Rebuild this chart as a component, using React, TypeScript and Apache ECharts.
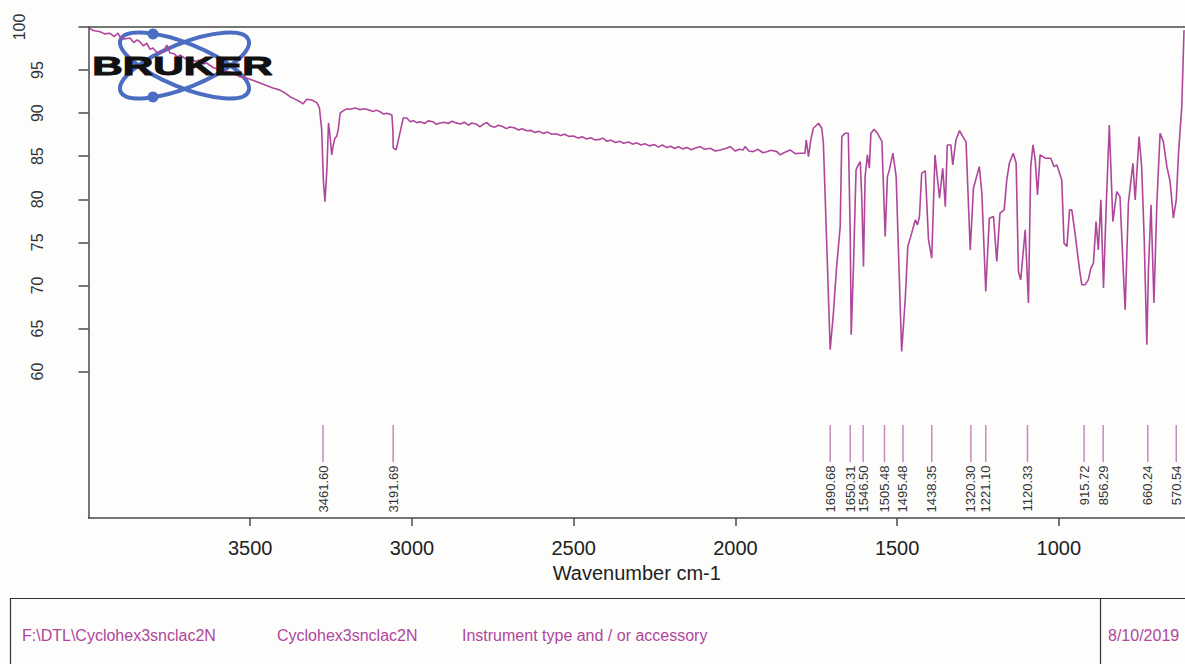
import React, { useEffect, useRef } from 'react';
import * as echarts from 'echarts';

// Spectrum: [wavenumber cm-1, transmittance %]
const highRegion: number[][] = [
  [4000, 99.9], [3985, 99.6], [3964, 99.45], [3950, 99.2], [3934, 99.27], [3920, 98.9], [3909, 99.3],
  [3903, 98.87], [3890, 98.6], [3872, 98.72], [3860, 98.2], [3850, 98.5], [3841, 98.29], [3830, 97.8],
  [3820, 98.14], [3810, 97.4], [3801, 97.56], [3790, 97.1], [3779, 96.98], [3768, 97.2], [3758, 97.91],
  [3748, 96.98], [3735, 96.9], [3725, 96.5], [3717, 96.75], [3700, 96.3], [3686, 96.4], [3670, 96.0],
  [3655, 96.17], [3645, 95.7], [3635, 95.82], [3615, 95.3], [3593, 95.01], [3575, 94.9], [3553, 94.66],
  [3530, 94.2], [3511, 94.08], [3490, 93.8], [3470, 93.5], [3450, 93.2], [3430, 92.92], [3410, 92.7],
  [3395, 92.4], [3377, 91.91], [3360, 91.6], [3346, 91.33], [3337, 91.07], [3325, 91.61], [3310, 91.53],
  [3294, 91.22], [3286, 90.6], [3279, 88.05], [3274, 82.25], [3269, 79.73], [3263, 83.41], [3258, 88.86],
  [3253, 87.27], [3248, 85.15], [3243, 86.31], [3238, 87.12], [3233, 87.27], [3228, 88.05], [3222, 89.99],
  [3212, 90.29], [3200, 90.5], [3191, 90.45], [3175, 90.6], [3160, 90.4], [3150, 90.5], [3140, 90.45],
  [3120, 90.2], [3110, 90.35], [3099, 90.17], [3088, 89.9], [3078, 89.99], [3070, 89.9], [3062, 89.79],
  [3059, 88.05], [3058, 85.96], [3049, 85.73], [3042, 86.89], [3035, 88.05], [3027, 89.44], [3016, 89.44],
  [3005, 89.0], [2996, 89.13], [2985, 88.9], [2975, 89.01], [2960, 88.8], [2950, 89.1], [2935, 89.01],
  [2925, 88.7], [2913, 88.86],
];

const midRegion: number[][] = [
  [2900, 88.95], [2888, 88.8], [2876, 89.05], [2866, 88.9], [2850, 88.75], [2838, 88.95], [2826, 88.6],
  [2815, 88.85], [2800, 88.7], [2790, 88.4], [2778, 88.75], [2768, 88.9], [2757, 88.5], [2745, 88.35],
  [2733, 88.6], [2720, 88.45], [2708, 88.2], [2698, 88.4], [2684, 88.3], [2670, 88.05], [2660, 88.2],
  [2645, 87.95], [2632, 88.0], [2620, 87.75], [2608, 87.9], [2594, 87.65], [2580, 87.8], [2568, 87.55],
  [2555, 87.6], [2540, 87.4], [2528, 87.55], [2515, 87.3], [2500, 87.35], [2486, 87.1], [2474, 87.25],
  [2460, 87.0], [2447, 87.15], [2434, 86.9], [2420, 86.95], [2410, 87.1], [2398, 86.75], [2385, 86.85],
  [2370, 86.6], [2358, 86.75], [2346, 86.5], [2330, 86.65], [2318, 86.4], [2305, 86.55], [2292, 86.3],
  [2280, 86.45], [2266, 86.2], [2250, 86.35], [2238, 86.05], [2226, 86.3], [2212, 86.0], [2200, 86.15],
  [2188, 85.9], [2176, 86.1], [2163, 85.85], [2150, 86.0], [2136, 85.75], [2124, 85.95], [2109, 86.11],
  [2095, 85.8], [2078, 85.93], [2062, 85.6], [2047, 85.73], [2030, 85.9], [2016, 86.11], [2000, 85.6],
  [1988, 85.8], [1976, 85.73], [1970, 86.11], [1958, 85.6], [1945, 85.53], [1930, 85.8], [1915, 85.4],
  [1903, 85.53], [1890, 85.7], [1872, 85.53], [1862, 85.15], [1850, 85.4], [1831, 85.73], [1815, 85.3],
  [1800, 85.35], [1785, 85.35],
];

const fingerprintRegion: number[][] = [
  [1781, 86.89], [1774, 84.95], [1767, 86.89], [1759, 88.25], [1743, 88.83], [1733, 88.25], [1728, 86.51],
  [1717, 74.13], [1707, 62.53], [1697, 66.79], [1687, 72.19], [1676, 76.83], [1671, 87.27], [1661, 87.67],
  [1651, 87.67], [1645, 76.07], [1642, 64.27], [1635, 72.19], [1627, 83.41], [1620, 83.99], [1614, 84.37],
  [1609, 79.93], [1604, 72.19], [1599, 82.63], [1592, 85.15], [1586, 83.61], [1581, 87.67], [1571, 88.13],
  [1561, 87.67], [1547, 86.69], [1537, 75.67], [1530, 82.63], [1524, 83.41], [1513, 85.35], [1503, 82.63],
  [1496, 74.13], [1486, 62.34], [1475, 68.33], [1467, 74.52], [1455, 76.07], [1444, 77.61], [1437, 77.03],
  [1431, 78.0], [1424, 83.03], [1413, 83.3], [1403, 75.29], [1393, 73.17], [1383, 85.15], [1369, 80.13],
  [1359, 83.61], [1351, 79.15], [1345, 86.31], [1334, 86.31], [1328, 83.99], [1318, 86.89], [1307, 87.97],
  [1297, 87.27], [1287, 86.69], [1274, 74.13], [1264, 81.29], [1246, 83.79], [1238, 80.71], [1226, 69.29],
  [1215, 77.81], [1202, 78.0], [1192, 72.77], [1182, 78.39], [1169, 78.77], [1161, 82.25], [1153, 84.19],
  [1141, 85.35], [1132, 84.19], [1125, 71.62], [1118, 70.65], [1104, 76.45], [1094, 67.95], [1087, 83.79],
  [1080, 86.31], [1073, 84.57], [1066, 80.51], [1058, 85.15], [1042, 84.77], [1025, 84.77], [1015, 83.79],
  [1006, 83.99], [991, 82.25], [984, 74.91], [975, 74.51], [967, 78.77], [960, 78.77], [950, 76.07],
  [936, 71.81], [929, 70.07], [919, 70.07], [909, 70.65], [901, 72.01], [893, 72.59], [885, 77.41],
  [878, 74.13], [870, 79.93], [862, 69.69], [854, 78.77], [844, 88.63], [833, 77.41], [821, 80.89],
  [811, 80.31], [800, 71.03], [795, 67.17], [785, 79.55], [771, 84.19], [764, 79.93], [752, 87.27],
  [744, 83.79], [736, 75.29], [728, 63.11], [723, 71.81], [715, 79.35], [706, 67.95], [697, 79.55],
  [687, 87.67], [677, 86.69], [666, 83.79], [656, 82.05], [646, 77.81], [637, 79.93], [630, 85.35],
  [620, 90.75], [613, 99.65],
];

// Peak pick markers (position on the axis as drawn) and their printed labels
const peakPositions = [3275, 3058, 1707, 1645, 1605, 1539, 1482, 1393, 1272, 1226, 1097, 922, 863, 725, 637];
const peakLabels = ['3461.60', '3191.69', '1690.68', '1650.31', '1546.50', '1505.48', '1495.48', '1438.35',
  '1320.30', '1221.10', '1120.33', '915.72', '856.29', '660.24', '570.54'];

const xTickValues = [3500, 3000, 2500, 2000, 1500, 1000];
const yTickValues = [60, 65, 70, 75, 80, 85, 90, 95, 100];

const footerTexts = ['F:\\DTL\\Cyclohex3snclac2N', 'Cyclohex3snclac2N', 'Instrument type and / or accessory', '8/10/2019'];

const FONT = '"Liberation Sans", Arial, sans-serif';
const LINE_COLOR = '#b0469c';
const AXIS_COLOR = '#4a4a4a';
const LOGO_BLUE = '#4b6dc2';

export default function App() {
  const ref = useRef<HTMLDivElement>(null);

  useEffect(() => {
    document.body.style.margin = '0';
    if (!ref.current) return;
    const chart = echarts.init(ref.current, undefined, { renderer: 'svg' });
    const spectrum = [...highRegion, ...midRegion, ...fingerprintRegion];

    const xCommon = {
      type: 'value' as const,
      min: 610,
      max: 4000,
      inverse: true,
      splitLine: { show: false },
    };

    const staticGraphic: any[] = [
      // Bruker logo
      { type: 'ellipse', x: 184.5, y: 65.5, rotation: (22 * Math.PI) / 180, shape: { cx: 0, cy: 0, rx: 69, ry: 22 }, style: { fill: 'none', stroke: LOGO_BLUE, lineWidth: 4 }, z: 1 },
      { type: 'ellipse', x: 184.5, y: 65.5, rotation: (-22 * Math.PI) / 180, shape: { cx: 0, cy: 0, rx: 69, ry: 22 }, style: { fill: 'none', stroke: LOGO_BLUE, lineWidth: 4 }, z: 1 },
      { type: 'circle', shape: { cx: 153, cy: 34, r: 5.5 }, style: { fill: LOGO_BLUE }, z: 1 },
      { type: 'circle', shape: { cx: 153, cy: 97, r: 5.5 }, style: { fill: LOGO_BLUE }, z: 1 },
      {
        type: 'text', x: 182.5, y: 66, scaleX: 1.69, z: 100,
        style: { text: 'BRUKER', font: `bold 25px ${FONT}`, fill: '#111', stroke: '#111', lineWidth: 1, align: 'center', verticalAlign: 'middle' },
      },
      // Footer box
      { type: 'rect', shape: { x: 10.5, y: 598.5, width: 1250, height: 120 }, style: { fill: 'none', stroke: '#333', lineWidth: 1.2 }, z: 1 },
      { type: 'line', shape: { x1: 1100.5, y1: 598.5, x2: 1100.5, y2: 700 }, style: { stroke: '#333', lineWidth: 1.2 }, z: 1 },
      ...footerTexts.map((t, i) => ({
        type: 'text',
        x: [22, 277, 462, 1108][i],
        y: 635,
        z: 10,
        style: { text: t, font: `16px ${FONT}`, fill: '#b0469c', align: 'left', verticalAlign: 'middle' },
      })),
    ];

    chart.setOption({
      animation: false,
      backgroundColor: '#fdfdfc',
      grid: { left: 88.5, right: 0, top: 27, bottom: 146, containLabel: false },
      xAxis: [
        {
          ...xCommon,
          position: 'bottom',
          name: 'Wavenumber cm-1',
          nameLocation: 'middle',
          nameGap: 40,
          nameTextStyle: { fontFamily: FONT, fontSize: 20, color: '#222' },
          axisLine: { show: true, onZero: false, lineStyle: { color: AXIS_COLOR, width: 1.5 } },
          axisTick: { show: true, customValues: xTickValues, length: 8, lineStyle: { color: AXIS_COLOR, width: 1.5 } },
          axisLabel: {
            show: true, customValues: xTickValues, margin: 20, fontFamily: FONT, fontSize: 20, color: '#222',
            formatter: (v: number) => String(v),
          },
        },
        {
          ...xCommon,
          position: 'top',
          axisLine: { show: true, onZero: false, lineStyle: { color: AXIS_COLOR, width: 1.5 } },
          axisTick: { show: false },
          axisLabel: { show: false },
        },
      ],
      yAxis: {
        type: 'value',
        min: 43,
        max: 100,
        splitLine: { show: false },
        axisLine: { show: true, lineStyle: { color: AXIS_COLOR, width: 1.5 } },
        axisTick: { show: true, customValues: yTickValues, length: 10, lineStyle: { color: AXIS_COLOR, width: 1.5 } },
        axisLabel: { show: false },
      },
      series: [
        {
          type: 'line',
          data: spectrum,
          showSymbol: false,
          symbol: 'none',
          lineStyle: { color: LINE_COLOR, width: 1.6 },
          z: 2,
        },
        {
          type: 'custom',
          data: peakPositions.map((p) => [p, 50]),
          encode: { x: 0, y: 1 },
          clip: false,
          renderItem: (params: any, api: any) => {
            const x = api.value(0);
            const top = api.coord([x, 53.8]);
            const bot = api.coord([x, 49.5]);
            const lab = api.coord([x, 49.1]);
            return {
              type: 'group',
              children: [
                {
                  type: 'line',
                  shape: { x1: top[0], y1: top[1], x2: bot[0], y2: bot[1] },
                  style: { stroke: '#c98abd', lineWidth: 1.5 },
                },
                {
                  type: 'text',
                  x: lab[0],
                  y: lab[1],
                  rotation: Math.PI / 2,
                  style: {
                    text: peakLabels[params.dataIndex],
                    fill: '#333',
                    font: `13px ${FONT}`,
                    align: 'right',
                    verticalAlign: 'middle',
                  },
                },
              ],
            };
          },
          z: 3,
        },
      ],
      graphic: staticGraphic,
    });

    // Y tick labels placed at the axis' own pixel positions (rotated, parallel to the axis)
    const yLabelElements = yTickValues.map((v) => ({
      type: 'text',
      x: v === 100 ? 19 : 37,
      y: chart.convertToPixel({ yAxisIndex: 0 }, v) as number,
      rotation: Math.PI / 2,
      z: 10,
      style: { text: String(v), font: `16px ${FONT}`, fill: '#333', align: 'center', verticalAlign: 'middle' },
    }));
    chart.setOption({ graphic: [...staticGraphic, ...yLabelElements] });

    return () => chart.dispose();
  }, []);

  return <div ref={ref} style={{ width: 1185, height: 664, background: '#fdfdfc' }} />;
}
